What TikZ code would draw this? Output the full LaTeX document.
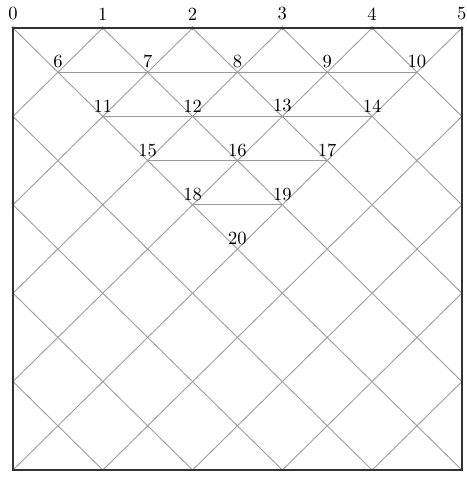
\documentclass[tikz,border=0pt]{standalone}
\usepackage{tikz}
\usetikzlibrary{positioning}

\begin{document}
\begin{tikzpicture}[x=1.7cm,y=1.674cm,
    gridline/.style={gray!75,line width=0.5pt},
    rowline/.style={gray!80,line width=0.5pt},
    lbl/.style={inner sep=1pt,font=\normalsize}]
    \useasboundingbox (-0.145,-0.079) rectangle (5.056,5.317);

    % Diagonal grid
    \begin{scope}
        \clip (0,0) rectangle (5,5);
        \foreach \k in {1,...,9} \draw[gridline] (\k,0) -- (\k-5,5);
        \foreach \k in {-4,...,4} \draw[gridline] (\k,0) -- (\k+5,5);
    \end{scope}

    % Frame
    \draw[black!80,line width=0.7pt] (0,0) rectangle (5,5);

    % Top points
    \foreach \i in {0,...,5} {
        \coordinate (p\i) at (\i,5);
        \fill[black!80] (p\i) circle (0.9pt);
        \node[lbl,above=3pt of p\i] (l\i) {\i};
    }

    % Inner points
    \foreach \n/\x/\y in {6/0.5/4.5,7/1.5/4.5,8/2.5/4.5,9/3.5/4.5,10/4.5/4.5,
        11/1/4,12/2/4,13/3/4,14/4/4,
        15/1.5/3.5,16/2.5/3.5,17/3.5/3.5,
        18/2/3,19/3/3,20/2.5/2.5} {
        \coordinate (p\n) at (\x,\y);
        \node[lbl,above=1pt of p\n] (l\n) {\n};
    }

    % Horizontal rows
    \draw[rowline] (p6) -- (p10);
    \draw[rowline] (p11) -- (p14);
    \draw[rowline] (p15) -- (p17);
    \draw[rowline] (p18) -- (p19);
\end{tikzpicture}
\end{document}
